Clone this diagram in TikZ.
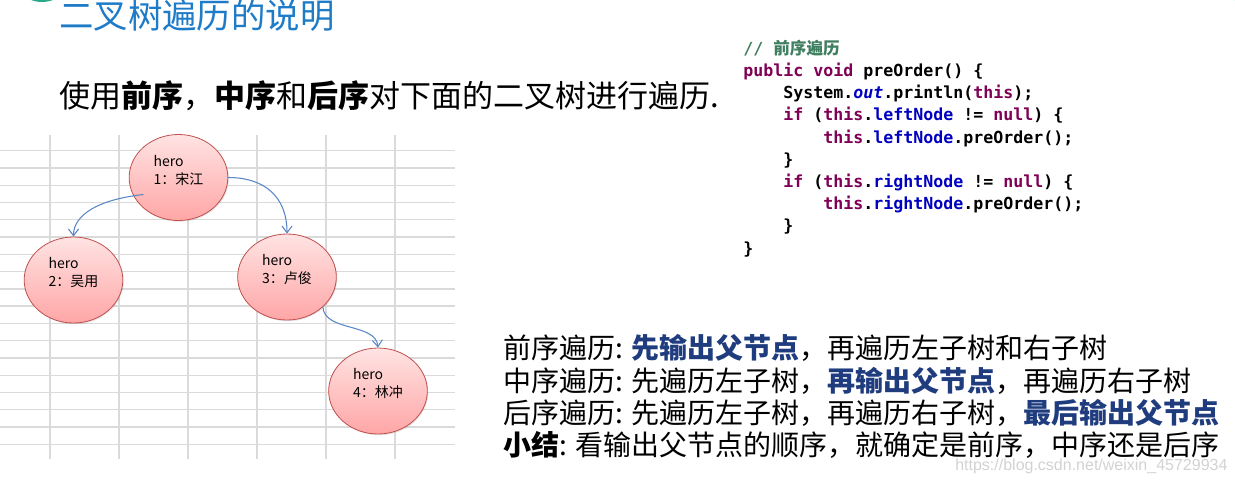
\documentclass[tikz,border=0pt]{standalone}
\usepackage{fontspec}
\setmainfont{Noto Sans CJK SC}
\newfontfamily\cjk{Noto Sans CJK SC}
\newfontfamily\codefont{DejaVu Sans Mono}
\newfontfamily\wmfont{Liberation Sans}
\usepackage{xcolor}
\usetikzlibrary{arrows.meta, positioning, calc, shapes.geometric, shadows}
\definecolor{titleblue}{HTML}{1E7BC8}
\definecolor{navy}{HTML}{1F3C7E}
\definecolor{gridgray}{HTML}{DADADA}
\definecolor{heroborder}{HTML}{C0504D}
\definecolor{herotop}{HTML}{FFE3E3}
\definecolor{herobottom}{HTML}{FFA6A6}
\definecolor{linkblue}{HTML}{5B87C5}
\definecolor{kwpurple}{HTML}{7F0055}
\definecolor{fieldblue}{HTML}{0000C0}
\definecolor{commentgreen}{HTML}{3F7F5F}
\definecolor{decogreen}{HTML}{2AA88A}

\newcommand{\kw}[1]{\textcolor{kwpurple}{#1}}
\newcommand{\fld}[1]{\textcolor{fieldblue}{#1}}
\newcommand{\codeindent}{\phantom{0000}}
\newcommand{\hl}[1]{\textcolor{navy}{\bfseries #1}}

\begin{document}
\begin{tikzpicture}[
    x=0.75pt, y=-0.75pt,
    gridline/.style={gridgray, line width=1pt},
    heronode/.style={ellipse, draw=heroborder, line width=0.6pt, top color=herotop, bottom color=herobottom,
                     minimum width=74pt, minimum height=64.5pt, inner sep=0pt,
                     drop shadow={opacity=0.22, shadow xshift=0.7pt, shadow yshift=-0.9pt}},
    herolabel/.style={align=left, inner sep=0pt, yshift=5.5pt, font=\fontsize{10.5}{13.5}\selectfont},
    link/.style={-{Straight Barb[length=5pt, width=7.5pt]}, linkblue, line width=0.8pt}
]
    \useasboundingbox (0,0) rectangle (1235,483);

    % slide decorations
    \fill[decogreen] (42,-28) circle[radius=30];
    \fill[decogreen] (1242,-5) circle[radius=9];

    % spreadsheet grid
    \foreach \gx in {50,119,188,257,326,395}
        \draw[gridline] (\gx,135) -- (\gx,459);
    \foreach \k in {0,...,17}
        \draw[gridline] (0,{150.7+17.27*\k}) -- (455,{150.7+17.27*\k});

    % titles
    \node[anchor=west, inner sep=0pt, text=titleblue, font=\fontsize{25.8}{30}\selectfont] (title) at (59,15) {二叉树遍历的说明};
    \node[anchor=west, inner sep=0pt, font=\fontsize{23.25}{28}\selectfont] (intro) at (59,96)
        {使用\textbf{前序}，\textbf{中序}和\textbf{后序}对下面的二叉树进行遍历.};

    % the tree
    \node[heronode, label={[herolabel]center:{hero\\1：宋江}}] (n1) at (178.5,177.5) {};
    \node[heronode, label={[herolabel]center:{hero\\2：吴用}}] (n2) at (73.5,280) {};
    \node[heronode, label={[herolabel]center:{hero\\3：卢俊}}] (n3) at (287,277) {};
    \node[heronode, label={[herolabel]center:{hero\\4：林冲}}] (n4) at (378,391) {};

    \draw[link] ([shift={(-35,17)}]n1.center) .. controls +(-45,5) and +(0,-22) .. (n2.north);
    \draw[link] (n1.east) .. controls +(35,0) and +(0,-38) .. (n3.north);
    \draw[link] (n3.-40) .. controls +(2,25) and +(-2,-25) .. (n4.north);

    % code listing
    \node[anchor=north west, inner sep=0pt, align=left,
          font=\codefont\bfseries\fontsize{12.46}{16.65}\selectfont] (code) at (743,39.6) {%
        \textcolor{commentgreen}{// {\cjk 前序遍历}}\\
        \kw{public} \kw{void} preOrder() \{\\
        \codeindent System.\fld{\itshape out}.println(\kw{this});\\
        \codeindent \kw{if} (\kw{this}.\fld{leftNode} != \kw{null}) \{\\
        \codeindent\codeindent \kw{this}.\fld{leftNode}.preOrder();\\
        \codeindent \}\\
        \codeindent \kw{if} (\kw{this}.\fld{rightNode} != \kw{null}) \{\\
        \codeindent\codeindent \kw{this}.\fld{rightNode}.preOrder();\\
        \codeindent \}\\
        \}};

    % summary
    \node[anchor=north west, inner sep=0pt, align=left,
          font=\fontsize{21}{24.2}\selectfont] (summary) at (503.5,334.5) {%
        前序遍历: \hl{先输出父节点}，再遍历左子树和右子树\\
        中序遍历: 先遍历左子树，\hl{再输出父节点}，再遍历右子树\\
        后序遍历: 先遍历左子树，再遍历右子树，\hl{最后输出父节点}\\
        \textbf{小结}: 看输出父节点的顺序，就确定是前序，中序还是后序};

    \node[anchor=west, inner sep=0pt, text=gray!35, font=\wmfont\fontsize{12}{14}\selectfont] (mark) at (955,466)
        {https://blog.csdn.net/weixin\_45729934};
\end{tikzpicture}
\end{document}
